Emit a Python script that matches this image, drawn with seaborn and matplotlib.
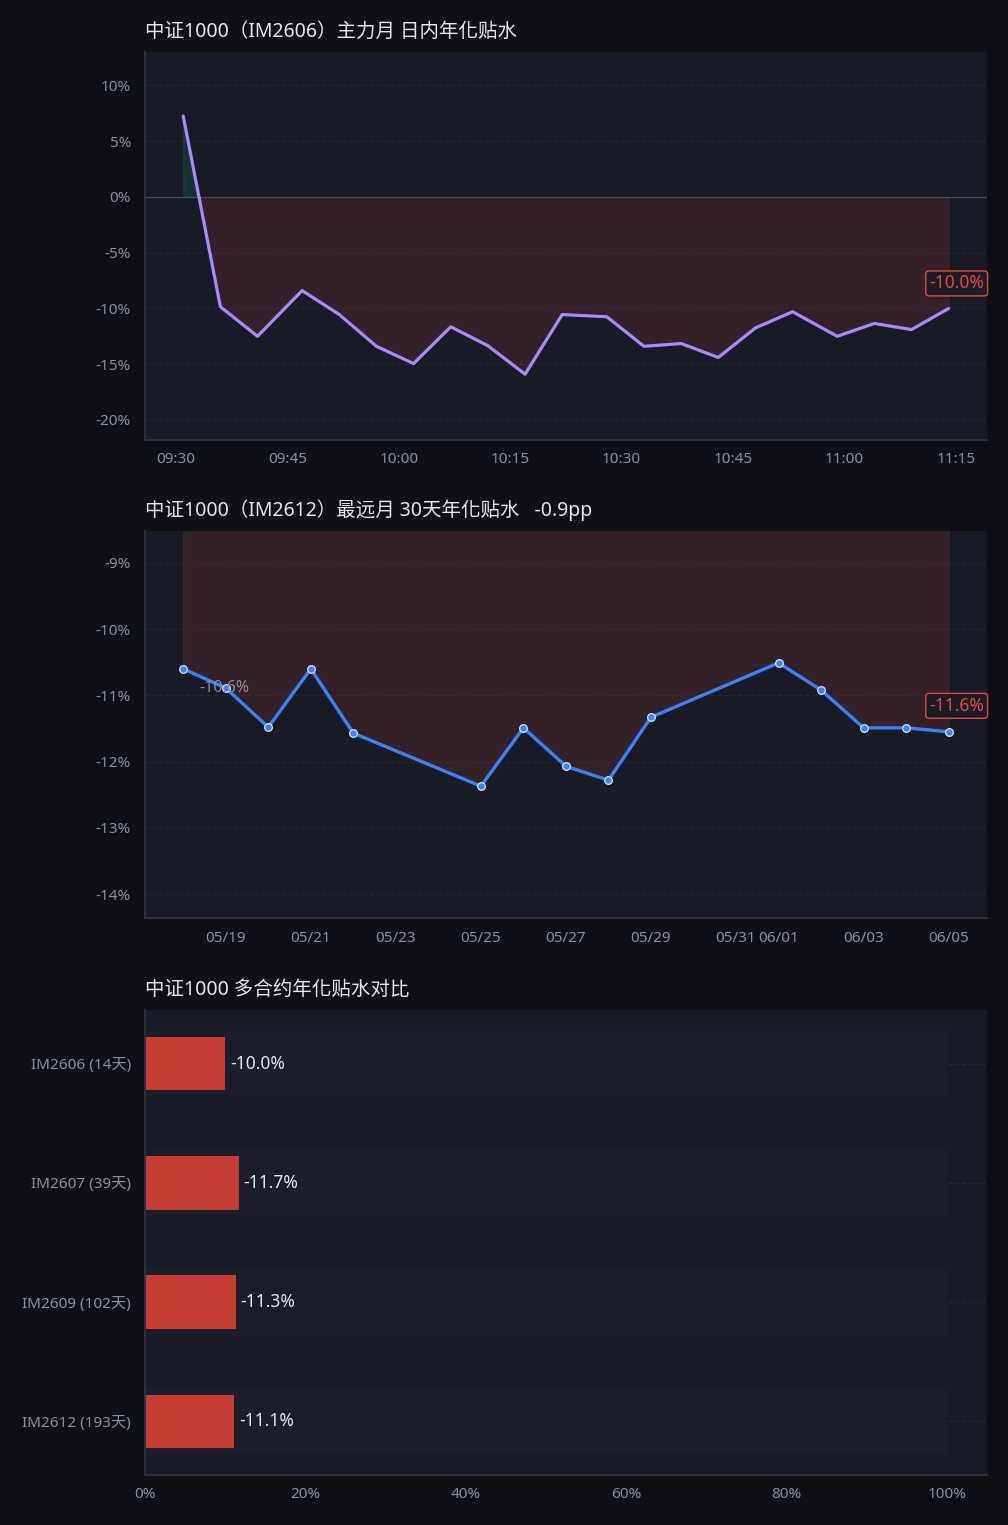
import pandas as pd
import matplotlib
matplotlib.use("Agg")
import matplotlib.pyplot as plt
import matplotlib.dates as mdates
from matplotlib.ticker import FuncFormatter
import seaborn as sns

# intraday annualized basis of the main contract (IM2606)
intraday_times = ["09:31", "09:36", "09:41", "09:47", "09:52", "09:57", "10:02",
                  "10:07", "10:12", "10:17", "10:22", "10:28", "10:33", "10:38",
                  "10:43", "10:48", "10:53", "10:59", "11:04", "11:09", "11:14"]
intraday_values = [7.25, -9.85, -12.5, -8.4, -10.55, -13.4, -14.95,
                   -11.65, -13.35, -15.9, -10.55, -10.75, -13.4, -13.15,
                   -14.4, -11.75, -10.3, -12.5, -11.35, -11.9, -10.0]

# 30-day annualized basis of the farthest contract (IM2612)
daily_dates = ["2026-05-18", "2026-05-19", "2026-05-20", "2026-05-21", "2026-05-22",
               "2026-05-25", "2026-05-26", "2026-05-27", "2026-05-28", "2026-05-29",
               "2026-06-01", "2026-06-02", "2026-06-03", "2026-06-04", "2026-06-05"]
daily_values = [-10.6, -10.89, -11.48, -10.6, -11.57,
                -12.37, -11.49, -12.07, -12.28, -11.33,
                -10.51, -10.92, -11.49, -11.49, -11.55]

# all contracts comparison
contracts = ["IM2606 (14天)", "IM2607 (39天)", "IM2609 (102天)", "IM2612 (193天)"]
contract_values = [-10.0, -11.7, -11.3, -11.1]
track_values = [100, 100, 100, 100]

BG = "#0f1015"
PANEL = "#181b26"
GRID = "#252836"
SPINE = "#2c2f3d"
TICK = "#8a8f9f"
TITLE = "#e4e6eb"
RED = "#ef4444"

sns.set_theme(style="dark")
plt.rcParams['font.family'] = ['Noto Sans', 'Noto Sans CJK TC', 'DejaVu Sans']
plt.rcParams['axes.unicode_minus'] = False

fig = plt.figure(figsize=(10.08, 15.25), dpi=100, facecolor=BG)
ax1 = fig.add_axes([0.1438, 0.7115, 0.8353, 0.2544])
ax2 = fig.add_axes([0.1438, 0.3980, 0.8353, 0.2538])
ax3 = fig.add_axes([0.1438, 0.0328, 0.8353, 0.3049])

pct = FuncFormatter(lambda v, p: f"{v:.0f}%")


def style(ax, title):
    ax.set_facecolor(PANEL)
    for s in ["top", "right"]:
        ax.spines[s].set_visible(False)
    for s in ["left", "bottom"]:
        ax.spines[s].set_color(SPINE)
        ax.spines[s].set_linewidth(1.5)
    ax.tick_params(colors=TICK, labelsize=11, length=0)
    ax.tick_params(axis="y", pad=10)
    ax.tick_params(axis="x", pad=9)
    ax.grid(axis="y", color=GRID, linestyle=(0, (4, 3)), linewidth=0.7)
    ax.grid(axis="x", visible=False)
    ax.set_title(title, loc="left", color=TITLE, fontsize=14, pad=11)
    ax.set_xlabel("")
    ax.set_ylabel("")


# ---- chart 1: intraday ----
df1 = pd.DataFrame({"t": pd.to_datetime(["2026-06-05 " + t for t in intraday_times]),
                    "v": intraday_values})
sns.lineplot(data=df1, x="t", y="v", ax=ax1, color="#a78bfa", linewidth=2.3)
ax1.fill_between(df1["t"], df1["v"], 0, where=df1["v"] < 0, interpolate=True,
                 color=RED, alpha=0.13, linewidth=1)
ax1.fill_between(df1["t"], df1["v"], 0, where=df1["v"] > 0, interpolate=True,
                 color="#10b981", alpha=0.15, linewidth=1)
ax1.axhline(0, color="#464a5a", linewidth=0.9, zorder=1)
ax1.set_ylim(-21.8, 13.0)
ax1.yaxis.set_major_formatter(pct)
ax1.xaxis.set_major_locator(mdates.MinuteLocator(byminute=[0, 15, 30, 45]))
ax1.xaxis.set_major_formatter(mdates.DateFormatter("%H:%M"))
style(ax1, "中证1000（IM2606）主力月 日内年化贴水")
ax1.annotate(f"{intraday_values[-1]:.1f}%", (df1["t"].iloc[-1], intraday_values[-1]),
             xytext=(8, 25), textcoords="offset pixels", ha="center", va="center",
             color=RED, fontsize=12.5,
             bbox=dict(boxstyle="round,pad=0.2", fc="#1a1c26", ec=RED, lw=1))

# ---- chart 2: farthest contract 30 days ----
df2 = pd.DataFrame({"d": pd.to_datetime(daily_dates), "v": daily_values})
sns.lineplot(data=df2, x="d", y="v", ax=ax2, color="#3b82f6", linewidth=2.4,
             marker="o", markersize=5.5, markeredgecolor="#d6e4ff",
             markeredgewidth=0.9)
ax2.fill_between(df2["d"], df2["v"], 0, color=RED, alpha=0.13, linewidth=1)
ax2.set_ylim(-14.36, -8.52)
ax2.yaxis.set_major_formatter(pct)
ax2.xaxis.set_major_locator(mdates.DayLocator(bymonthday=range(1, 32, 2)))
ax2.xaxis.set_major_formatter(mdates.DateFormatter("%m/%d"))
style(ax2, "中证1000（IM2612）最远月 30天年化贴水   -0.9pp")
ax2.annotate(f"{daily_values[0]:.1f}%", (df2["d"].iloc[0], daily_values[0]),
             xytext=(41, -19), textcoords="offset pixels", ha="center", va="center",
             color=TICK, fontsize=11.5)
ax2.annotate(f"{daily_values[-1]:.1f}%", (df2["d"].iloc[-1], daily_values[-1]),
             xytext=(8, 26), textcoords="offset pixels", ha="center", va="center",
             color=RED, fontsize=12.5,
             bbox=dict(boxstyle="round,pad=0.2", fc="#1a1c26", ec=RED, lw=1))

# ---- chart 3: contract comparison ----
df3 = pd.DataFrame({"c": contracts, "v": [abs(v) for v in contract_values],
                    "track": track_values})
sns.barplot(data=df3, x="track", y="c", orient="h", ax=ax3, color="#1b1e2a",
            width=0.55, errorbar=None, saturation=1, linewidth=0)
sns.barplot(data=df3, x="v", y="c", orient="h", ax=ax3, color="#c53d35",
            width=0.45, errorbar=None, saturation=1, linewidth=0)
for i, v in enumerate(contract_values):
    ax3.text(abs(v) + 0.6, i, f"{v:.1f}%", va="center", ha="left",
             color=TITLE, fontsize=12.5)
ax3.set_xlim(0, 105)
ax3.set_ylim(3.45, -0.45)
ax3.set_xticks([0, 20, 40, 60, 80, 100])
ax3.xaxis.set_major_formatter(pct)
style(ax3, "中证1000 多合约年化贴水对比")

fig.savefig("out.png", dpi=100, facecolor=BG)
